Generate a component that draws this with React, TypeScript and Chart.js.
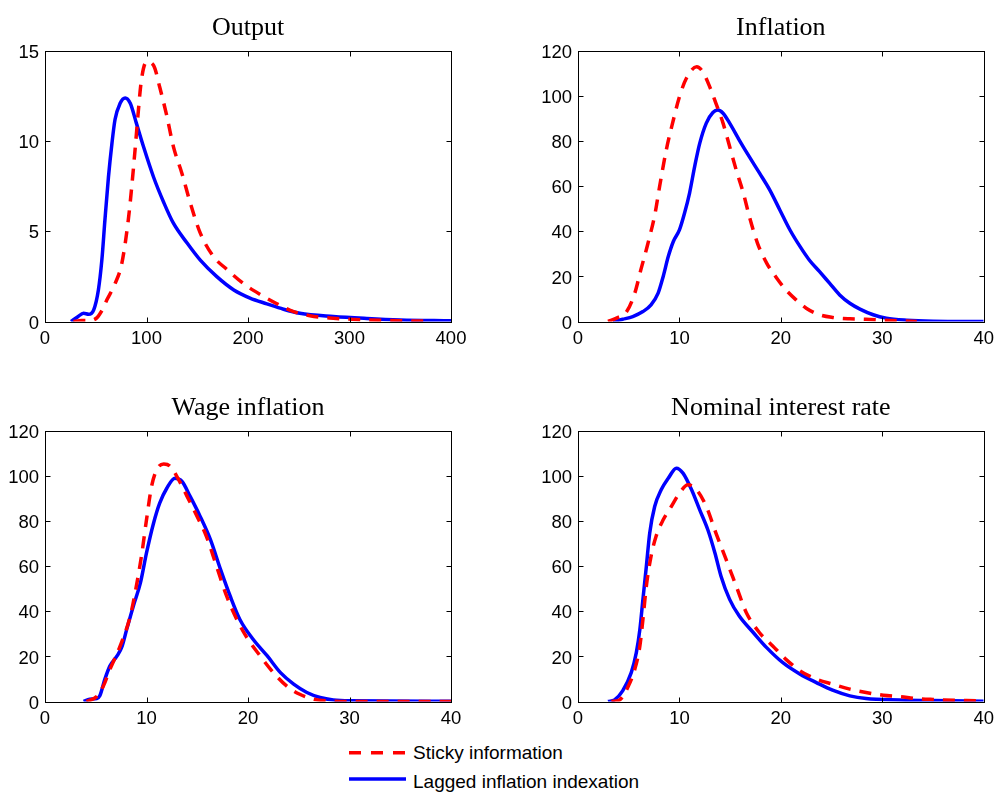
import React, { useEffect, useRef } from "react";
import { Chart, registerables } from "chart.js";

Chart.register(...registerables);

// ---------- Data ----------
const outputStickyX = [28, 36, 44, 51, 56, 61, 69, 75.6, 82, 85.5, 89, 92, 95, 100, 107, 113, 120, 126.5, 135, 143, 153, 166, 179, 195.6, 212, 228, 245, 265, 284, 317, 350, 375];
const outputStickyY = [0, 0.05, 0.05, 0.2, 0.6, 1.2, 2.1, 3.2, 5.6, 7.5, 9.7, 11.7, 13.4, 14.4, 14.2, 13.0, 11.4, 9.7, 8.2, 6.6, 4.9, 3.6, 2.9, 2.1, 1.5, 1.0, 0.55, 0.28, 0.18, 0.09, 0.04, 0.02];
const outputLaggedX = [25.6, 32, 38, 43, 48, 52.6, 56, 59, 62.5, 66, 69, 74, 79, 84, 90, 97, 107, 117, 126.5, 140, 153, 169, 186, 202, 218.6, 235, 251, 284, 317, 350, 400];
const outputLaggedY = [0, 0.25, 0.46, 0.4, 0.65, 1.75, 3.4, 5.6, 8.0, 9.9, 11.2, 12.1, 12.4, 12.1, 11.0, 9.7, 8.0, 6.6, 5.45, 4.35, 3.4, 2.5, 1.75, 1.3, 0.98, 0.68, 0.46, 0.28, 0.17, 0.09, 0.04];

const inflationStickyX = [2.96, 3.8, 4.8, 5.6, 6.2, 6.9, 7.6, 8.05, 8.7, 9.4, 10.0, 10.7, 11.7, 12.3, 13.0, 13.6, 14.3, 14.95, 15.6, 16.3, 16.9, 17.7, 18.6, 19.6, 20.5, 21.5, 22.5, 23.8, 25.1, 26.8, 28.4, 30.1, 33.4];
const inflationStickyY = [0, 1.5, 4.4, 12.6, 23, 34.7, 48, 60, 76, 89.4, 99.7, 108, 113, 110.8, 104, 96.8, 88, 77.6, 67.2, 57, 46.5, 34.7, 25.9, 19.2, 14, 9.6, 5.9, 3.0, 1.8, 1.2, 1.0, 0.6, 0];
const inflationLaggedX = [3.45, 4.4, 5.4, 6.4, 7.2, 7.9, 8.4, 8.9, 9.4, 10.0, 10.5, 11.0, 11.5, 12.0, 12.65, 13.3, 13.8, 14.3, 14.95, 15.9, 16.9, 17.9, 18.9, 19.9, 20.9, 21.9, 22.8, 23.8, 24.8, 25.8, 26.8, 27.8, 29.1, 30.4, 32.4, 35, 40];
const inflationLaggedY = [0, 1, 2.2, 4.4, 7.4, 12.6, 20, 28.8, 35.5, 40.6, 48, 57, 68.7, 79, 88, 92.7, 93.8, 92.4, 88, 80.5, 73, 65.8, 58.4, 49.5, 40.6, 33.2, 27.3, 22.2, 17, 11.8, 8.1, 5.5, 3.0, 1.5, 0.6, 0.15, 0];

const wageStickyX = [4.1, 5.1, 5.75, 6.4, 7.4, 8.4, 9.0, 9.5, 10.0, 10.5, 11.0, 11.7, 12.3, 13.0, 14.0, 15.0, 15.9, 16.9, 17.9, 18.9, 19.9, 21.2, 22.5, 23.8, 25.1, 26.5, 28.4, 30.1, 40];
const wageStickyY = [0, 2.2, 6.9, 14.3, 24.6, 37.9, 51.2, 64.4, 80.6, 95.4, 102.8, 105.4, 104.5, 99.8, 91, 82, 73.3, 60, 46.7, 36.4, 28.3, 20.2, 12.8, 6.9, 3.2, 1.0, 0.15, 0, 0];
const wageLaggedX = [3.8, 4.4, 5.1, 5.4, 5.9, 6.4, 7.1, 7.6, 8.05, 8.7, 9.4, 10.0, 10.7, 11.3, 12.0, 12.8, 13.5, 14.3, 15.3, 16.3, 17.3, 18.25, 19.2, 20.5, 21.9, 23.2, 24.5, 25.8, 27.1, 28.4, 30, 40];
const wageLaggedY = [0, 1, 1.3, 2.5, 9.9, 15.8, 20.2, 24.6, 32, 42.3, 52.6, 65.9, 79.2, 88, 94.6, 99, 97.6, 91, 82, 71.8, 58.5, 46.7, 36.4, 27.6, 20.2, 12.8, 7.7, 4.0, 1.8, 0.7, 0.3, 0.1];

const nominalStickyX = [3.3, 4.1, 4.9, 5.6, 6.1, 6.4, 6.74, 7.2, 7.7, 8.4, 9.2, 10.0, 10.85, 11.7, 12.65, 13.6, 14.6, 15.6, 16.6, 17.9, 19.2, 20.5, 21.9, 23.5, 25.1, 26.8, 28.4, 30.1, 31.7, 33.4, 35, 38.3, 40];
const nominalStickyY = [0, 0.7, 6.2, 14.3, 24.6, 36.4, 51.2, 64.4, 73.3, 80.6, 86.5, 92.4, 96.1, 93.9, 86.5, 74.7, 63, 51.2, 39.4, 30.5, 24.6, 18.7, 13.6, 9.9, 7.7, 5.5, 4.0, 2.8, 2.2, 1.3, 0.9, 0.4, 0.3];
const nominalLaggedX = [2.96, 3.6, 4.4, 5.25, 5.75, 6.1, 6.4, 6.74, 7.07, 7.56, 8.2, 8.9, 9.7, 10.35, 11.2, 12.0, 12.8, 13.5, 14.1, 14.95, 15.9, 17.3, 18.6, 20.2, 21.9, 23.5, 25.1, 26.8, 28.4, 31.7, 35, 40];
const nominalLaggedY = [0, 0.7, 4.7, 12.8, 21.7, 32, 45.3, 60, 74.7, 86.5, 93.9, 99, 103.5, 101.3, 93.9, 85, 76.2, 65.9, 55.6, 45.3, 37.9, 30.5, 23.9, 17.2, 12.1, 8.4, 5.0, 2.5, 1.3, 0.7, 0.4, 0.15];

const panelTitles = ["Output", "Inflation", "Wage inflation", "Nominal interest rate"];
const xMaxes = [400, 40, 40, 40];
const xSteps = [100, 10, 10, 10];
const yMaxes = [15, 120, 120, 120];
const ySteps = [5, 20, 20, 20];
const seriesLabels = ["Sticky information", "Lagged inflation indexation"];

// ---------- Layout ----------
const layouts = [
  { left: 0, top: 0, width: 480, yWidth: 45 },
  { left: 500, top: 0, width: 500, yWidth: 78 },
  { left: 0, top: 380, width: 480, yWidth: 45 },
  { left: 500, top: 380, width: 500, yWidth: 78 },
];
const CANVAS_H = 355;
const X_AXIS_H = 30;
const AREA_BOTTOM = 321.5;

const pairs = (xs: number[], ys: number[]) => xs.map((x, i) => ({ x, y: ys[i] }));

const seriesData = [
  [pairs(outputStickyX, outputStickyY), pairs(outputLaggedX, outputLaggedY)],
  [pairs(inflationStickyX, inflationStickyY), pairs(inflationLaggedX, inflationLaggedY)],
  [pairs(wageStickyX, wageStickyY), pairs(wageLaggedX, wageLaggedY)],
  [pairs(nominalStickyX, nominalStickyY), pairs(nominalLaggedX, nominalLaggedY)],
];

const SANS = '"Liberation Sans", Arial, Helvetica, sans-serif';
const SERIF = '"Liberation Serif", "Times New Roman", serif';

const boxPlugin = {
  id: "matlabBox",
  afterDatasetsDraw(chart: any) {
    const { ctx, chartArea: a, scales } = chart;
    const L = 5;
    ctx.save();
    ctx.strokeStyle = "#000";
    ctx.lineWidth = 1;
    const l = Math.round(a.left) + 0.5;
    const r = Math.round(a.right) + 0.5;
    const t = Math.round(a.top) + 0.5;
    const b = Math.round(a.bottom) + 0.5;
    ctx.strokeRect(l, t, r - l, b - t);
    ctx.beginPath();
    scales.x.ticks.forEach((tk: any) => {
      const px = Math.round(scales.x.getPixelForValue(tk.value)) + 0.5;
      ctx.moveTo(px, b);
      ctx.lineTo(px, b - L);
      ctx.moveTo(px, t);
      ctx.lineTo(px, t + L);
    });
    scales.y.ticks.forEach((tk: any) => {
      const py = Math.round(scales.y.getPixelForValue(tk.value)) + 0.5;
      ctx.moveTo(l, py);
      ctx.lineTo(l + L, py);
      ctx.moveTo(r, py);
      ctx.lineTo(r - L, py);
    });
    ctx.stroke();
    ctx.restore();
  },
};

function Panel({ idx }: { idx: number }) {
  const ref = useRef<HTMLCanvasElement>(null);
  const lay = layouts[idx];
  useEffect(() => {
    if (!ref.current) return;
    const areaRight = lay.left === 0 ? 451 : 984;
    const padRight = lay.left + lay.width - areaRight;
    const chart = new Chart(ref.current, {
      type: "line",
      data: {
        datasets: [
          {
            label: seriesLabels[0],
            data: seriesData[idx][0],
            borderColor: "#ff0000",
            borderWidth: 3.5,
            borderDash: [12, 9],
            pointRadius: 0,
            fill: false,
            cubicInterpolationMode: "monotone",
          },
          {
            label: seriesLabels[1],
            data: seriesData[idx][1],
            borderColor: "#0000ff",
            borderWidth: 3.5,
            pointRadius: 0,
            fill: false,
            cubicInterpolationMode: "monotone",
          },
        ],
      },
      options: {
        responsive: false,
        animation: false,
        devicePixelRatio: 1,
        events: [],
        layout: {
          padding: { left: 0, top: 0, right: padRight, bottom: CANVAS_H - X_AXIS_H - AREA_BOTTOM },
        },
        scales: {
          x: {
            type: "linear",
            min: 0,
            max: xMaxes[idx],
            grid: { display: false, drawTicks: false },
            border: { display: false },
            ticks: {
              stepSize: xSteps[idx],
              color: "#000",
              padding: 6,
              maxRotation: 0,
              font: { family: SANS, size: 18.5 },
            },
            afterFit: (s: any) => {
              s.height = X_AXIS_H;
            },
          },
          y: {
            type: "linear",
            min: 0,
            max: yMaxes[idx],
            grid: { display: false, drawTicks: false },
            border: { display: false },
            ticks: {
              stepSize: ySteps[idx],
              color: "#000",
              padding: 6,
              labelOffset: 2,
              font: { family: SANS, size: 18.5 },
            },
            afterFit: (s: any) => {
              s.width = lay.yWidth;
            },
          },
        },
        plugins: {
          legend: { display: false },
          tooltip: { enabled: false },
          title: {
            display: true,
            text: panelTitles[idx],
            fullSize: false,
            color: "#000",
            font: { family: SERIF, size: 26, weight: "normal" },
            padding: { top: 13, bottom: 6.8 },
          },
        },
      },
      plugins: [boxPlugin],
    } as any);
    return () => chart.destroy();
  }, [idx]);
  return (
    <canvas
      ref={ref}
      width={lay.width}
      height={CANVAS_H}
      style={{ position: "absolute", left: lay.left, top: lay.top, width: lay.width, height: CANVAS_H }}
    />
  );
}

export default function App() {
  return (
    <div style={{ position: "absolute", left: 0, top: 0, width: 1000, height: 797, background: "#fff", overflow: "hidden" }}>
      {[0, 1, 2, 3].map((i) => (
        <Panel key={i} idx={i} />
      ))}
      <svg
        width={330}
        height={60}
        style={{ position: "absolute", left: 340, top: 735 }}
      >
        <line x1={9} x2={66} y1={17.7} y2={17.7} stroke="#ff0000" strokeWidth={3.5} strokeDasharray="12 10" />
        <line x1={9} x2={66} y1={44} y2={44} stroke="#0000ff" strokeWidth={3.5} />
        <text x={73} y={24.3} fontFamily={SANS} fontSize={19} fill="#000">
          {seriesLabels[0]}
        </text>
        <text x={73} y={52.7} fontFamily={SANS} fontSize={19} fill="#000">
          {seriesLabels[1]}
        </text>
      </svg>
    </div>
  );
}
